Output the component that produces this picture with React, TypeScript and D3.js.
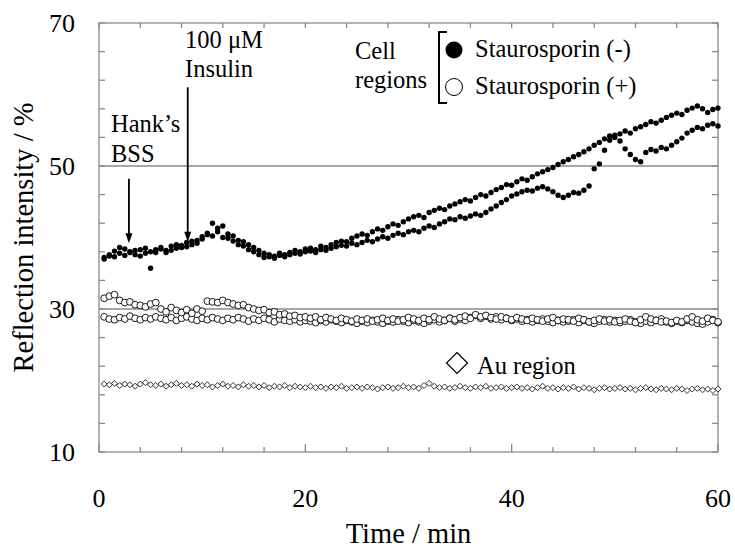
import React, { useRef, useEffect } from 'react';
import * as d3 from 'd3';

// readings every 0.5 min, first one at 0.5 min
const sampleStep = 0.5;

// Cell regions, Staurosporin (-): two cells
const minusCellA = [
  37.2, 37.6, 38.1, 37.8, 38.4, 38.0, 37.6, 38.3, 38.5, 38.0,
  38.3, 38.6, 38.2, 38.8, 38.5, 38.9, 39.3, 39.0, 39.6, 40.1,
  40.4, 42.0, 40.8, 41.6, 40.5, 40.2, 39.6, 39.4, 39.0, 38.6,
  38.2, 37.8, 37.6, 37.4, 37.8, 37.6, 37.9, 38.2, 38.0, 38.4,
  38.5, 38.3, 38.8, 38.6, 39.0, 39.3, 39.5, 39.4, 39.9, 40.2,
  40.5, 40.3, 40.8, 41.2, 41.0, 41.5, 41.9, 41.7, 42.2, 42.6,
  42.9, 43.1, 42.8, 43.5, 43.8, 44.1, 43.9, 44.4, 44.7, 45.0,
  45.3, 45.1, 45.6, 46.0, 45.8, 46.3, 46.7, 47.0, 47.4, 47.3,
  47.8, 48.2, 48.0, 48.5, 48.9, 49.2, 49.5, 49.8, 50.2, 50.6,
  50.9, 51.3, 51.6, 52.0, 52.4, 52.9, 53.3, 53.8, 54.2, 54.0,
  54.5, 54.9, 54.6, 55.2, 55.5, 55.8, 56.2, 56.0, 56.4, 56.8,
  57.1, 57.4, 57.2, 57.8, 58.1, 58.4, 58.0, 57.5, 57.9, 58.1,
];
const minusCellB = [
  37.0, 37.4, 37.3, 38.6, 37.5, 37.9, 38.2, 37.4, 37.8, 35.7,
  37.9, 38.4, 37.9, 38.2, 39.0, 38.6, 38.7, 39.5, 39.2, 39.8,
  40.6, 40.2, 41.3, 40.0, 39.9, 39.5, 39.0, 38.8, 38.3, 38.0,
  37.6, 37.2, 37.3, 37.1, 37.5, 37.3, 37.6, 37.8, 37.7, 38.0,
  38.1, 37.9, 38.3, 38.2, 38.5, 38.7, 38.9, 38.8, 39.2, 39.0,
  39.3, 39.6, 39.4, 39.8, 40.1, 39.9, 40.3, 40.6, 40.4, 40.8,
  41.0, 40.8, 41.3, 41.6, 41.4, 41.9, 42.2, 42.6, 42.5, 42.9,
  42.7, 43.0, 43.3, 43.1, 43.5, 44.0, 44.4, 44.9, 45.3, 45.8,
  46.1, 46.4, 46.6, 46.5, 46.9, 47.1, 46.8, 46.4, 45.9, 45.6,
  45.9, 46.3, 46.2, 46.6, 47.2, 49.6, 50.3, 52.2, 53.6, 54.3,
  53.5, 52.4, 51.6, 50.9, 50.6, 51.9, 52.3, 52.1, 52.6, 52.4,
  52.9, 53.4, 53.9, 54.6, 55.0, 55.4, 55.2, 55.7, 55.9, 55.6,
];

// Cell regions, Staurosporin (+): two cells
const plusCellA = [
  31.5, 31.8, 32.0, 31.2, 30.9, 31.0, 30.6, 30.5, 30.3, 30.7,
  30.9, 30.0, 29.6, 30.2, 29.8, 29.5, 29.9, 29.4, 30.0, 29.7,
  31.1, 31.0, 30.9, 31.2, 30.9, 30.7, 30.5, 30.6, 30.2, 30.0,
  29.8, 29.9, 29.5, 29.6, 29.2, 29.3, 29.0, 29.1, 28.8, 28.9,
  28.7, 28.9, 28.5, 28.8, 28.6, 28.4, 28.7, 28.5, 28.3, 28.6,
  28.4, 28.6, 28.3, 28.5, 28.7, 28.4, 28.6, 28.3, 28.5, 28.8,
  28.6, 28.4, 28.7, 28.5, 28.9, 28.6, 28.4, 28.7, 28.5, 28.8,
  29.0, 28.7, 29.2, 28.9, 29.1, 28.8, 28.6, 28.9, 28.7, 28.5,
  28.8, 28.6, 28.4, 28.7, 28.5, 28.3, 28.6, 28.8, 28.4, 28.6,
  28.5, 28.3, 28.7, 28.5, 28.2, 28.4, 28.6, 28.3, 28.5, 28.2,
  28.4, 28.6, 28.3, 28.1, 28.5, 28.9, 28.6, 28.4, 28.2, 28.3,
  28.1, 28.4, 28.2, 28.6, 28.9, 28.5, 28.3, 28.7, 28.4, 28.2,
];
const plusCellB = [
  28.9, 28.6, 28.5, 28.8, 28.6, 29.0, 28.7, 28.5, 28.8, 28.6,
  28.9, 28.7, 28.5, 28.8, 28.4, 28.7, 28.9, 28.6, 28.4, 28.7,
  28.5, 28.8, 28.6, 28.4, 28.7, 28.5, 28.8, 28.6, 28.3, 28.6,
  28.4, 28.7, 28.5, 28.2, 28.6, 28.4, 28.3, 28.5, 28.2, 28.4,
  28.3, 28.1, 28.4, 28.2, 28.5, 28.3, 28.1, 28.4, 28.2, 28.0,
  28.3, 28.1, 28.4, 28.2, 28.0, 28.3, 28.2, 28.5, 28.3, 28.1,
  28.4, 28.2, 28.0, 28.3, 28.5, 28.2, 28.4, 28.7, 28.3, 28.6,
  28.4, 28.8, 29.1, 28.7, 29.0, 28.6, 28.9, 28.5, 28.7, 28.4,
  28.6, 28.3, 28.5, 28.2, 28.4, 28.6, 28.3, 28.1, 28.4, 28.2,
  28.3, 28.5, 28.1, 28.4, 28.2, 28.0, 28.3, 28.5, 28.2, 28.4,
  28.1, 28.3, 28.5, 28.2, 28.0, 28.3, 28.1, 28.4, 28.6, 28.2,
  28.0, 28.3, 28.1, 28.4, 28.2, 28.0, 27.9, 28.2, 28.5, 28.1,
];

// Au region
const auRegion = [
  19.5, 19.4, 19.6, 19.3, 19.5, 19.4, 19.2, 19.5, 19.7, 19.4,
  19.3, 19.5, 19.2, 19.4, 19.6, 19.3, 19.4, 19.2, 19.5, 19.3,
  19.4, 19.1, 19.3, 19.5, 19.2, 19.3, 19.1, 19.4, 19.2, 19.3,
  19.1, 19.3, 19.0, 19.2, 19.1, 19.3, 19.0, 19.2, 19.1, 19.0,
  19.2, 19.0, 19.1, 18.9, 19.1, 19.0, 19.2, 18.9, 19.0, 19.1,
  18.9, 19.1, 19.0, 18.8, 19.0, 19.1, 18.9, 19.0, 19.2, 19.0,
  19.1, 18.9, 19.3, 19.6, 19.2, 19.0, 19.1, 18.9, 19.0, 19.2,
  19.0, 18.9, 19.1, 19.0, 19.2, 18.9, 19.0, 19.1, 18.9, 19.0,
  19.1, 18.9, 19.0, 18.8, 19.0, 19.2, 18.9, 19.0, 18.8, 19.0,
  18.9, 19.1, 18.8, 19.0, 18.9, 18.7, 18.9, 19.0, 18.8, 18.9,
  19.0, 18.8, 18.9, 18.7, 18.9, 19.0, 18.8, 18.7, 18.9, 18.8,
  18.7, 18.9, 18.8, 18.6, 18.8, 18.9, 18.7, 18.8, 18.6, 18.8,
];

const xTicks = [0, 4, 8, 12, 16, 20, 24, 28, 32, 36, 40, 44, 48, 52, 56, 60];
const xLabels = [0, 20, 40, 60];
const yTicks = [10, 14, 18, 22, 26, 30, 34, 38, 42, 46, 50, 54, 58, 62, 66, 70];
const yLabels = [10, 30, 50, 70];
const gridLines = [30, 50];

// treatment times (min)
const hankTime = 2.9;
const insulinTime = 8.6;

const serif = 'Liberation Serif, DejaVu Serif, Times, serif';
const axisGray = '#8a8a8a';

const App = () => {
  const svgRef = useRef<SVGSVGElement>(null);

  useEffect(() => {
    const svg = d3.select(svgRef.current);
    svg.selectAll('*').remove();

    const x = d3.scaleLinear().domain([0, 60]).range([99, 718]);
    const y = d3.scaleLinear().domain([10, 70]).range([452, 23]);
    const tOf = (i: number) => (i + 1) * sampleStep;

    // grid lines at 30 and 50
    svg.append('g')
      .selectAll('line')
      .data(gridLines)
      .join('line')
      .attr('x1', x(0)).attr('x2', x(60))
      .attr('y1', d => y(d)).attr('y2', d => y(d))
      .attr('stroke', axisGray).attr('stroke-width', 1.3);

    // frame: ticks point inwards on all four sides
    const tickLen = (v: number) => (v % 20 === 0 ? 8 : 5);
    const frame = svg.append('g').attr('stroke', axisGray).attr('stroke-width', 1.3);
    frame.append('rect')
      .attr('x', x(0)).attr('y', y(70))
      .attr('width', x(60) - x(0)).attr('height', y(10) - y(70))
      .attr('fill', 'none');
    frame.selectAll('.xb').data(xTicks).join('line').attr('class', 'xb')
      .attr('x1', d => x(d)).attr('x2', d => x(d))
      .attr('y1', y(10)).attr('y2', d => y(10) - tickLen(d));
    frame.selectAll('.xt').data(xTicks).join('line').attr('class', 'xt')
      .attr('x1', d => x(d)).attr('x2', d => x(d))
      .attr('y1', y(70)).attr('y2', y(70) + 5);
    frame.selectAll('.yl').data(yTicks).join('line').attr('class', 'yl')
      .attr('y1', d => y(d)).attr('y2', d => y(d))
      .attr('x1', x(0)).attr('x2', x(0) + 6);
    frame.selectAll('.yr').data(yTicks).join('line').attr('class', 'yr')
      .attr('y1', d => y(d)).attr('y2', d => y(d))
      .attr('x1', x(60)).attr('x2', x(60) - 6);

    const txt = svg.append('g').style('font-family', serif).attr('fill', '#000');

    // tick labels
    txt.append('g').selectAll('text').data(xLabels).join('text')
      .attr('x', d => x(d)).attr('y', 507)
      .attr('text-anchor', 'middle')
      .style('font-size', '26px')
      .text(d => d);
    txt.append('g').selectAll('text').data(yLabels).join('text')
      .attr('x', 75).attr('y', d => y(d) + 9)
      .attr('text-anchor', 'end')
      .style('font-size', '26px')
      .text(d => d);

    // axis titles
    txt.append('text')
      .attr('x', (x(0) + x(60)) / 2).attr('y', 543)
      .attr('text-anchor', 'middle')
      .style('font-size', '28.5px')
      .text('Time / min');
    txt.append('text')
      .attr('transform', `translate(33,${(y(10) + y(70)) / 2}) rotate(-90)`)
      .attr('text-anchor', 'middle')
      .style('font-size', '28.5px')
      .text('Reflection intensity / %');

    // data points
    const plot = svg.append('g');
    const diamond = (s: number) => `M0,${-s}L${s},0L0,${s}L${-s},0Z`;

    plot.selectAll('.au').data(auRegion).join('path').attr('class', 'au')
      .attr('transform', (d, i) => `translate(${x(tOf(i))},${y(d)})`)
      .attr('d', diamond(3))
      .attr('fill', '#fff').attr('stroke', '#000').attr('stroke-width', 0.8);

    [plusCellB, plusCellA].forEach((series, k) => {
      plot.selectAll(`.plus${k}`).data(series).join('circle').attr('class', `plus${k}`)
        .attr('cx', (d, i) => x(tOf(i))).attr('cy', d => y(d)).attr('r', 3.4)
        .attr('fill', '#fff').attr('stroke', '#000').attr('stroke-width', 0.9);
    });

    [minusCellA, minusCellB].forEach((series, k) => {
      plot.selectAll(`.minus${k}`).data(series).join('circle').attr('class', `minus${k}`)
        .attr('cx', (d, i) => x(tOf(i))).attr('cy', d => y(d)).attr('r', 2.7)
        .attr('fill', '#000');
    });

    // arrows for the additions
    const arrow = (t: number, from: number, to: number) => {
      const ax = x(t);
      svg.append('line')
        .attr('x1', ax).attr('x2', ax).attr('y1', y(from)).attr('y2', y(to) - 6)
        .attr('stroke', '#000').attr('stroke-width', 1.8);
      svg.append('path')
        .attr('d', `M${ax - 3.5},${y(to) - 10}L${ax + 3.5},${y(to) - 10}L${ax},${y(to)}Z`)
        .attr('fill', '#000');
    };
    arrow(hankTime, 48.2, 39.2);
    arrow(insulinTime, 61.0, 39.4);

    const label = (tx: number, ty: number, s: string) =>
      txt.append('text').attr('x', tx).attr('y', ty)
        .style('font-size', '24.5px').text(s);
    label(111, 132, 'Hank\u2019s');
    label(111, 162, 'BSS');
    label(185, 48, '100 \u03bcM');
    label(185, 77, 'Insulin');

    // legend
    label(355, 59, 'Cell');
    label(355, 88, 'regions');
    svg.append('path')
      .attr('d', 'M447,32H439V103H447')
      .attr('fill', 'none').attr('stroke', '#000').attr('stroke-width', 2);
    svg.append('circle').attr('cx', 454).attr('cy', 50).attr('r', 8.5).attr('fill', '#000');
    svg.append('circle').attr('cx', 454).attr('cy', 87).attr('r', 8.5)
      .attr('fill', '#fff').attr('stroke', '#000').attr('stroke-width', 1);
    label(475, 57, 'Staurosporin (-)');
    label(475, 94, 'Staurosporin (+)');
    svg.append('path')
      .attr('transform', 'translate(457,363)')
      .attr('d', diamond(10.5))
      .attr('fill', '#fff').attr('stroke', '#000').attr('stroke-width', 1.2);
    label(477, 374, 'Au region');
  }, []);

  return (
    <svg
      ref={svgRef}
      width={735}
      height={551}
      style={{ position: 'absolute', left: 0, top: 0, background: '#fff' }}
    />
  );
};

export default App;
